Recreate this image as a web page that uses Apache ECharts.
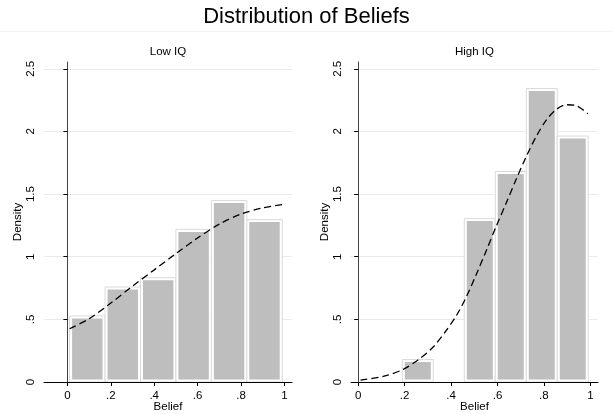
<!DOCTYPE html>
<html><head><meta charset="utf-8">
<script src="https://cdn.jsdelivr.net/npm/echarts@6/dist/echarts.min.js"></script>
<style>html,body{margin:0;padding:0;background:#fff}#c{width:613px;height:414px}</style>
</head><body><div id="c"></div>
<script>
// ---- data ----
const chartTitle = 'Distribution of Beliefs';
const panelTitles = ['Low IQ', 'High IQ'];
const lowBinEdges = [0.01, 0.1733, 0.3367, 0.50, 0.6633, 0.8267, 0.99];
const lowDensity = [0.527, 0.758, 0.833, 1.218, 1.448, 1.296];
const highBinEdges = [0.19, 0.3235, 0.457, 0.5905, 0.724, 0.8575, 0.991];
const highDensity = [0.179, 0, 1.304, 1.68, 2.342, 1.963];
const lowCurveX = [0.01, 0.1, 0.2, 0.3, 0.4, 0.5, 0.6, 0.7, 0.8, 0.9, 0.99];
const lowCurveY = [0.425, 0.505, 0.63, 0.765, 0.895, 1.025, 1.15, 1.26, 1.34, 1.39, 1.416];
const highCurveX = [0.01, 0.108, 0.194, 0.265, 0.323, 0.380, 0.423, 0.466, 0.509, 0.552, 0.595, 0.638, 0.681, 0.724, 0.767, 0.810, 0.853, 0.896, 0.939, 0.99];
const highCurveY = [0.015, 0.045, 0.101, 0.186, 0.279, 0.413, 0.53, 0.68, 0.86, 1.05, 1.245, 1.43, 1.62, 1.80, 1.96, 2.09, 2.175, 2.213, 2.205, 2.142];
const xTicks = [0, 0.2, 0.4, 0.6, 0.8, 1];
const yTicks = [0, 0.5, 1, 1.5, 2, 2.5];
const xAxisTitle = 'Belief';
const yAxisTitle = 'Density';

// ---- build ----
const FONT = '"Liberation Sans", Arial, Helvetica, sans-serif';
const FS = 11.5;
const fmt = v => String(+v.toFixed(2)).replace(/^0\./, '.');
function binsData(edges, dens) {
  return dens.map((d, i) => [edges[i], edges[i + 1], d]);
}
function curveData(xs, ys) { return xs.map((x, i) => [x, ys[i]]); }
function renderBar(params, api) {
  const h = api.value(2);
  if (!(h > 0)) return null;
  const p0 = api.coord([api.value(0), h]);
  const p1 = api.coord([api.value(1), 0]);
  const x = p0[0], y = p0[1], w = p1[0] - p0[0], hh = p1[1] - p0[1];
  return {
    type: 'group',
    children: [
      { type: 'rect', shape: { x: x, y: y, width: w, height: hh }, style: { fill: '#fff', stroke: '#dadada', lineWidth: 1 } },
      { type: 'rect', shape: { x: x + 2.5, y: y + 2.5, width: w - 5, height: hh - 5 }, style: { fill: '#bebebe' } }
    ]
  };
}
const grids = [
  { left: 44, top: 62, width: 248, height: 320, outerBoundsMode: 'none', containLabel: false },
  { left: 351, top: 62, width: 247, height: 320, outerBoundsMode: 'none', containLabel: false }
];
const xRanges = [[-0.108, 1.035], [-0.031, 1.033]];
const xAxes = xRanges.map((r, i) => ({
  type: 'value', gridIndex: i, min: r[0], max: r[1], z: 10,
  axisLine: { lineStyle: { color: '#000', width: 1 } },
  axisTick: { show: true, length: 4, customValues: xTicks, lineStyle: { color: '#000' } },
  axisLabel: { customValues: xTicks, formatter: fmt, fontSize: FS, color: '#000', fontFamily: FONT, margin: 8 },
  splitLine: { show: false },
  name: xAxisTitle, nameLocation: 'middle', nameGap: 19, nameMoveOverlap: false,
  nameTextStyle: { fontSize: FS, color: '#000', fontFamily: FONT }
}));
const yAxes = [0, 1].map(i => ({
  type: 'value', gridIndex: i, min: 0, max: 2.554,
  axisLine: { show: true, lineStyle: { color: '#444', width: 1 } },
  axisTick: { show: true, length: 4, customValues: yTicks, lineStyle: { color: '#000' } },
  axisLabel: { customValues: yTicks, formatter: fmt, rotate: 90, fontSize: FS, color: '#000', fontFamily: FONT, margin: 7 },
  splitLine: { show: true, lineStyle: { color: '#eaeaea', width: 1 } },
  name: yAxisTitle, nameLocation: 'middle', nameGap: 20, nameMoveOverlap: false,
  nameTextStyle: { fontSize: FS, color: '#000', fontFamily: FONT }
}));
const dash = { color: '#000', width: 1.3, type: [7, 4] };
const series = [
  { type: 'custom', xAxisIndex: 0, yAxisIndex: 0, renderItem: renderBar, data: binsData(lowBinEdges, lowDensity), encode: { x: [0, 1], y: 2 }, silent: true },
  { type: 'custom', xAxisIndex: 1, yAxisIndex: 1, renderItem: renderBar, data: binsData(highBinEdges, highDensity), encode: { x: [0, 1], y: 2 }, silent: true },
  { type: 'line', xAxisIndex: 0, yAxisIndex: 0, data: curveData(lowCurveX, lowCurveY), smooth: 0.3, showSymbol: false, z: 5, lineStyle: dash },
  { type: 'line', xAxisIndex: 1, yAxisIndex: 1, data: curveData(highCurveX, highCurveY), smooth: 0.3, showSymbol: false, z: 5, lineStyle: dash }
];
const chart = echarts.init(document.getElementById('c'), null, { renderer: 'canvas' });
chart.setOption({
  backgroundColor: '#fff',
  animation: false,
  textStyle: { fontFamily: FONT },
  grid: grids,
  xAxis: xAxes,
  yAxis: yAxes,
  series: series,
  graphic: [
    { type: 'line', shape: { x1: 0, y1: 31.5, x2: 613, y2: 31.5 }, style: { stroke: '#f2f2f2', lineWidth: 1 }, silent: true },
    { type: 'text', x: 306.5, y: 17, style: { text: chartTitle, fontSize: 22, fontFamily: FONT, fill: '#000', textAlign: 'center', textVerticalAlign: 'middle' } },
    { type: 'text', x: 168, y: 52, style: { text: panelTitles[0], fontSize: FS, fontFamily: FONT, fill: '#000', textAlign: 'center', textVerticalAlign: 'middle' } },
    { type: 'text', x: 474.5, y: 52, style: { text: panelTitles[1], fontSize: FS, fontFamily: FONT, fill: '#000', textAlign: 'center', textVerticalAlign: 'middle' } }
  ]
});
</script>
</body></html>
